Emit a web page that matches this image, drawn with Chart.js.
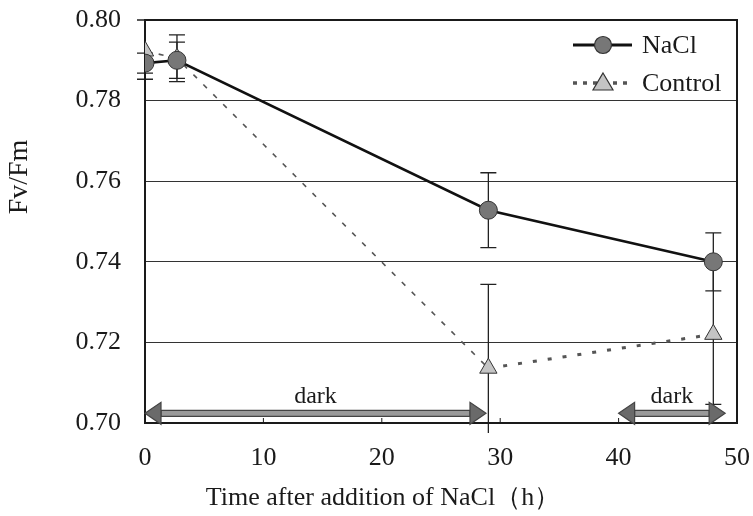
<!DOCTYPE html>
<html>
<head>
<meta charset="utf-8">
<script src="https://cdn.jsdelivr.net/npm/chart.js@4.4.1/dist/chart.umd.min.js"></script>
<style>
  html, body { margin: 0; padding: 0; background: #fff; }
  #wrap { width: 753px; height: 516px; }
</style>
</head>
<body>
<div id="wrap"><canvas id="chart" width="753" height="516"></canvas></div>
<script>
// --- data ---
const hours = [0, 2.7, 29, 48];
const naclValues = [0.7893, 0.7900, 0.7528, 0.7400];
const naclErr = [0.0025, 0.0045, 0.0093, 0.0072];
const controlValues = [0.7923, 0.7905, 0.7136, 0.7220];
const controlErrUp = [0.0077, 0.0058, 0.0208, 0.0174];
const controlErrDown = [0.0070, 0.0058, 0.0161, 0.0174];

// dark periods (h) drawn as double arrows
const darkFrom = [0, 40];
const darkTo = [28.8, 49];
const darkLevel = 0.7024;
const darkLabel = 'dark';

const yMin = 0.70, yMax = 0.80, yStep = 0.02;
const xMin = 0, xMax = 50, xStep = 10;
const xTitle = 'Time after addition of NaCl（h）';
const yTitle = 'Fv/Fm';

const serif = "'Liberation Serif', 'DejaVu Serif', serif";
const ink = '#1a1a1a';

const toPoints = (vals) => hours.map((h, i) => ({ x: h, y: vals[i] }));

// frame, inner ticks and error bars (behind markers)
const underlay = {
    id: 'underlay',
    beforeDatasetsDraw(chart) {
        const { ctx, chartArea: a, scales: { x, y } } = chart;
        ctx.save();
        // small inner ticks on x axis
        ctx.strokeStyle = ink;
        ctx.lineWidth = 1;
        x.ticks.forEach(t => {
            if (t.value <= xMin || t.value >= xMax) return;
            const px = x.getPixelForValue(t.value);
            ctx.beginPath();
            ctx.moveTo(px, a.bottom);
            ctx.lineTo(px, a.bottom - 5);
            ctx.stroke();
        });
        // error bars
        const bars = (vals, up, down) => {
            vals.forEach((v, i) => {
                const px = x.getPixelForValue(hours[i]);
                const top = y.getPixelForValue(v + up[i]);
                const bot = y.getPixelForValue(v - down[i]);
                ctx.beginPath();
                ctx.moveTo(px, top); ctx.lineTo(px, bot);
                ctx.moveTo(px - 8, top); ctx.lineTo(px + 8, top);
                if (v - down[i] > yMin) { ctx.moveTo(px - 8, bot); ctx.lineTo(px + 8, bot); }
                ctx.stroke();
            });
        };
        ctx.strokeStyle = '#222';
        ctx.lineWidth = 1.3;
        bars(naclValues, naclErr, naclErr);
        bars(controlValues, controlErrUp, controlErrDown);
        // plot frame
        ctx.strokeStyle = ink;
        ctx.lineWidth = 2;
        ctx.strokeRect(a.left, a.top, a.right - a.left, a.bottom - a.top);
        ctx.restore();
    }
};

// dark arrows, legend, axis titles
const overlay = {
    id: 'overlay',
    afterDraw(chart) {
        const { ctx, scales: { x, y } } = chart;
        ctx.save();
        const ay = y.getPixelForValue(darkLevel);
        darkFrom.forEach((f, i) => {
            const x0 = x.getPixelForValue(f);
            const x1 = x.getPixelForValue(darkTo[i]);
            const head = 16, half = 11, shaft = 3;
            ctx.fillStyle = '#9a9a9a';
            ctx.strokeStyle = '#444';
            ctx.lineWidth = 1.2;
            ctx.beginPath();
            ctx.rect(x0 + head, ay - shaft, x1 - x0 - 2 * head, shaft * 2);
            ctx.fill(); ctx.stroke();
            ctx.fillStyle = '#6a6a6a';
            ctx.beginPath();
            ctx.moveTo(x0, ay); ctx.lineTo(x0 + head, ay - half); ctx.lineTo(x0 + head, ay + half); ctx.closePath();
            ctx.fill(); ctx.stroke();
            ctx.beginPath();
            ctx.moveTo(x1, ay); ctx.lineTo(x1 - head, ay - half); ctx.lineTo(x1 - head, ay + half); ctx.closePath();
            ctx.fill(); ctx.stroke();
            ctx.fillStyle = ink;
            ctx.font = `24px ${serif}`;
            ctx.textAlign = 'center';
            ctx.textBaseline = 'bottom';
            ctx.fillText(darkLabel, (x0 + x1) / 2, ay - 5);
        });

        // legend
        const rows = [
            { label: 'NaCl', y: 45, ds: chart.data.datasets[0] },
            { label: 'Control', y: 83, ds: chart.data.datasets[1] }
        ];
        rows.forEach(r => {
            ctx.strokeStyle = r.ds.borderColor;
            ctx.lineWidth = r.ds.legendWidth;
            ctx.setLineDash(r.ds.legendDash);
            ctx.beginPath();
            ctx.moveTo(573, r.y); ctx.lineTo(632, r.y);
            ctx.stroke();
            ctx.setLineDash([]);
            ctx.fillStyle = r.ds.pointBackgroundColor;
            ctx.strokeStyle = r.ds.pointBorderColor;
            ctx.lineWidth = 1.2;
            ctx.beginPath();
            if (r.ds.pointStyle === 'triangle') {
                ctx.moveTo(603, r.y - 10); ctx.lineTo(613, r.y + 7); ctx.lineTo(593, r.y + 7); ctx.closePath();
            } else {
                ctx.arc(603, r.y, 8.5, 0, Math.PI * 2);
            }
            ctx.fill(); ctx.stroke();
            ctx.fillStyle = ink;
            ctx.font = `26px ${serif}`;
            ctx.textAlign = 'left';
            ctx.textBaseline = 'middle';
            ctx.fillText(r.label, 642, r.y + 1);
        });

        // x axis title (sits left of the plot centre in the original)
        ctx.fillStyle = ink;
        ctx.font = `26px ${serif}`;
        ctx.textAlign = 'center';
        ctx.textBaseline = 'middle';
        ctx.fillText(xTitle, 383, 498);

        // y axis title
        ctx.translate(20, 177);
        ctx.rotate(-Math.PI / 2);
        ctx.font = `28px ${serif}`;
        ctx.fillText(yTitle, 0, 0);
        ctx.restore();
    }
};

new Chart(document.getElementById('chart'), {
    type: 'line',
    data: {
        datasets: [
            {
                label: 'NaCl',
                data: toPoints(naclValues),
                borderColor: '#111',
                borderWidth: 2.6,
                pointStyle: 'circle',
                pointRadius: 9,
                pointBackgroundColor: '#777',
                pointBorderColor: '#333',
                pointBorderWidth: 1,
                legendWidth: 3,
                legendDash: []
            },
            {
                label: 'Control',
                data: toPoints(controlValues),
                borderColor: '#555',
                borderWidth: 1.6,
                borderDash: [5, 9],
                segment: {
                    borderWidth: c => c.p0DataIndex >= 2 ? 3 : 1.6,
                    borderDash: c => c.p0DataIndex >= 2 ? [4, 11] : [5, 9]
                },
                pointStyle: 'triangle',
                pointRadius: 10,
                pointBackgroundColor: '#c4c4c4',
                pointBorderColor: '#333',
                pointBorderWidth: 1,
                legendWidth: 3.5,
                legendDash: [4, 6]
            }
        ]
    },
    options: {
        responsive: false,
        animation: false,
        layout: { padding: { top: 20, right: 16, bottom: 0, left: 0 } },
        plugins: { legend: { display: false }, tooltip: { enabled: false } },
        scales: {
            x: {
                type: 'linear',
                min: xMin, max: xMax,
                ticks: { stepSize: xStep, color: ink, font: { family: serif, size: 26 }, padding: 20 },
                grid: { display: false, drawTicks: false },
                border: { display: false },
                title: { display: false },
                afterFit: s => { s.height = 93; s.paddingLeft = 0; s.paddingRight = 0; }
            },
            y: {
                min: yMin, max: yMax,
                ticks: { stepSize: yStep, color: ink, font: { family: serif, size: 26 }, padding: 24, callback: v => v.toFixed(2) },
                grid: { color: '#333', lineWidth: 1, drawTicks: false },
                border: { display: false },
                afterFit: s => { s.width = 145; s.paddingTop = 0; s.paddingBottom = 0; }
            }
        }
    },
    plugins: [underlay, overlay]
});
</script>
</body>
</html>
